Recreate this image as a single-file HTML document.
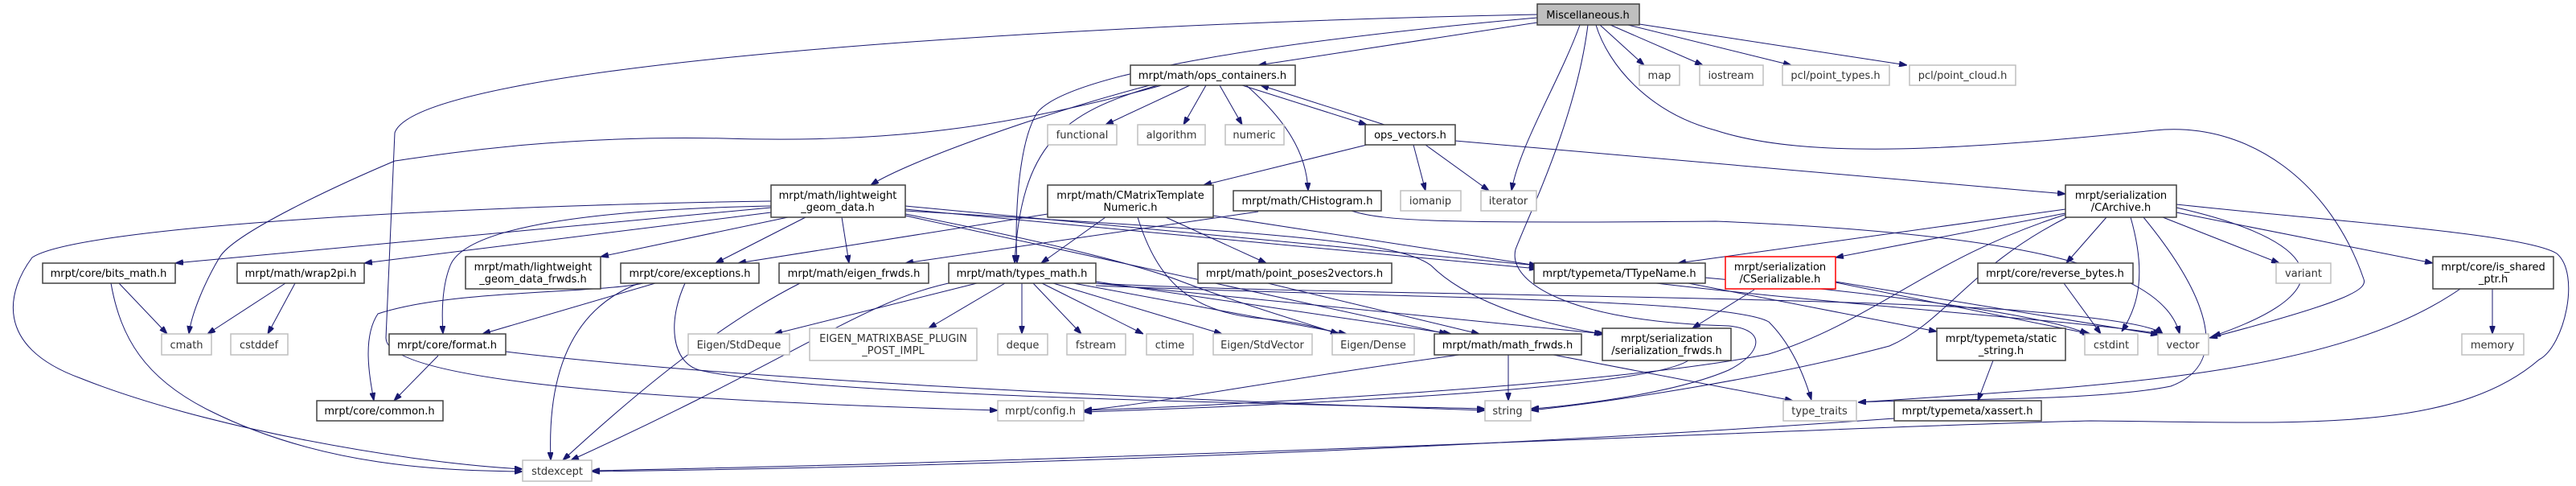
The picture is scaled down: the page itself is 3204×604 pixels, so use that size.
<!DOCTYPE html>
<html><head><meta charset="utf-8"><style>
html,body{margin:0;padding:0;background:#fff;}
svg{display:block;}
text{font-family:"DejaVu Sans","Liberation Sans",sans-serif;font-size:13px;fill:#000;}
.g text{fill:#333;}
.e path{fill:none;stroke:#191970;stroke-width:1;marker-end:url(#ah);}
</style></head><body>
<svg width="3204" height="604" viewBox="0 0 3204 604" xmlns="http://www.w3.org/2000/svg">
<defs><marker id="ah" markerUnits="userSpaceOnUse" markerWidth="10" markerHeight="7" refX="10" refY="3.5" orient="auto"><path d="M0,0 L10,3.5 L0,7 z" fill="#191970" stroke="#191970"/></marker></defs>
<g class="e">
<path d="M1912,28 L1565,81"/>
<path d="M1912,22 C1600,50 1330,90 1290,140 C1265,180 1262,280 1265,327"/>
<path d="M1912,18 C1300,30 520,80 491,165 L480,420 C480,480 900,500 1241,510"/>
<path d="M1990,31 L2045,81"/>
<path d="M2003,31 L2118,81"/>
<path d="M2025,31 L2228,81"/>
<path d="M2039,30 L2372,81"/>
<path d="M1965,31 C1940,100 1890,180 1880,237"/>
<path d="M1975,31 C1960,150 1900,270 1885,310 C1875,350 1950,400 2150,405 C2200,410 2190,440 2150,460 C2080,490 1950,505 1904,508"/>
<path d="M1985,31 C2000,80 2050,140 2134,162 C2250,200 2450,185 2680,162 C2800,150 2900,230 2940,347 C2945,360 2920,375 2748,420"/>
<path d="M1480,106 L1375,155"/>
<path d="M1500,106 L1472,155"/>
<path d="M1517,106 L1545,155"/>
<path d="M1545,106 L1700,155"/>
<path d="M1722,155 L1568,106"/>
<path d="M1550,106 C1600,150 1625,190 1627,237"/>
<path d="M1440,106 C1320,140 1270,180 1262,327"/>
<path d="M1445,106 C1250,160 1100,178 900,172 C700,168 560,190 491,200 C420,230 290,290 273,320 C255,350 238,390 235,415"/>
<path d="M1430,106 C1300,140 1130,200 1083,230"/>
<path d="M1700,180 L1497,230"/>
<path d="M1758,180 L1773,237"/>
<path d="M1773,180 L1852,237"/>
<path d="M1810,175 L2569,241"/>
<path d="M1375,270 L1295,327"/>
<path d="M1450,270 L1575,327"/>
<path d="M1415,270 C1440,350 1480,385 1560,395 C1620,400 1650,410 1665,415"/>
<path d="M1509,268 L1912,330"/>
<path d="M1303,266 L918,327"/>
<path d="M1565,263 L1126,327"/>
<path d="M1681,262 C1720,275 1800,278 2134,275 C2500,290 2690,330 2711,415"/>
<path d="M959,250 C600,255 100,280 40,320 C10,360 -10,430 100,470 C250,530 500,575 650,583"/>
<path d="M959,258 L218,327"/>
<path d="M959,264 L453,327"/>
<path d="M959,256 C750,260 580,280 560,330 C548,360 550,400 551,415"/>
<path d="M980,270 L747,319"/>
<path d="M1002,270 L890,327"/>
<path d="M1047,270 L1056,327"/>
<path d="M1126,256 L1912,330"/>
<path d="M1126,260 L1912,334"/>
<path d="M1126,262 C1600,290 1740,300 1780,330 C1820,370 1900,400 1993,415"/>
<path d="M1126,266 C1300,300 1420,330 1470,350 C1550,380 1620,400 1665,415"/>
<path d="M1126,268 L1800,415"/>
<path d="M800,352 C740,365 560,360 470,390 C450,420 460,470 465,498"/>
<path d="M815,352 L600,415"/>
<path d="M795,352 C720,380 680,450 685,572"/>
<path d="M852,352 C830,400 835,450 870,460 C1000,490 1500,500 1847,508"/>
<path d="M995,352 C900,400 800,480 700,572"/>
<path d="M545,442 L490,498"/>
<path d="M629,437 C900,470 1400,495 1847,510"/>
<path d="M148,352 L208,415"/>
<path d="M138,352 C150,420 180,470 260,510 C400,580 550,585 650,586"/>
<path d="M355,352 L258,415"/>
<path d="M367,352 L333,415"/>
<path d="M1215,352 L963,415"/>
<path d="M1250,352 L1155,408"/>
<path d="M1271,352 L1271,415"/>
<path d="M1285,352 L1345,415"/>
<path d="M1296,352 L1422,415"/>
<path d="M1310,352 L1520,415"/>
<path d="M1335,352 L1675,415"/>
<path d="M1363,350 L1805,415"/>
<path d="M1363,352 L1996,415"/>
<path d="M1363,352 C1600,366 2200,366 2500,385 C2620,395 2680,405 2690,415"/>
<path d="M1190,350 C1080,370 1000,440 710,572"/>
<path d="M1363,355 C1700,370 2150,370 2200,400 C2230,430 2245,470 2253,497"/>
<path d="M1577,352 L1840,415"/>
<path d="M1815,441 C1600,470 1450,500 1348,510"/>
<path d="M1876,441 L1876,498"/>
<path d="M1932,441 L2230,498"/>
<path d="M2100,448 C2050,480 1700,500 1348,512"/>
<path d="M2182,360 L2105,408"/>
<path d="M2283,351 L2600,415"/>
<path d="M2283,350 L2685,416"/>
<path d="M2120,345 C2400,370 2550,395 2597,415"/>
<path d="M2100,352 L2409,412"/>
<path d="M2060,352 C2300,380 2600,400 2688,415"/>
<path d="M2569,260 L2087,327"/>
<path d="M2569,265 L2283,320"/>
<path d="M2620,270 L2570,327"/>
<path d="M2650,270 C2670,340 2660,380 2639,412"/>
<path d="M2707,258 C2850,290 2950,350 2752,418"/>
<path d="M2690,270 L2835,327"/>
<path d="M2707,264 L3026,327"/>
<path d="M2707,254 C2900,275 3140,290 3180,315 C3210,340 3190,430 3158,447 C3050,540 2850,525 2600,523 C2300,530 1500,570 736,585"/>
<path d="M2571,266 C2400,320 2330,400 2200,440 C2000,480 1500,505 1348,510"/>
<path d="M2575,268 C2450,330 2420,400 2350,430 C2200,470 2000,500 1904,510"/>
<path d="M2666,270 C2740,360 2780,450 2700,480 C2600,500 2400,495 2311,500"/>
<path d="M2567,352 L2613,415"/>
<path d="M3100,359 L3100,415"/>
<path d="M3060,359 C2900,470 2600,480 2311,500"/>
<path d="M2479,448 L2460,498"/>
<path d="M2356,520 C1800,560 1200,580 736,586"/>
</g>
<g id="nodes" stroke-width="1.5">
<g fill="#fff" stroke="#404040">
<rect x="959" y="230" width="167" height="40"/>
<rect x="53" y="327" width="165" height="25"/>
<rect x="295" y="327" width="158" height="25"/>
<rect x="579" y="319" width="168" height="40"/>
<rect x="772" y="327" width="172" height="25"/>
<rect x="969" y="327" width="186" height="25"/>
<rect x="484" y="415" width="145" height="26"/>
<rect x="394" y="498" width="157" height="25"/>
<rect x="1406" y="81" width="205" height="25"/>
<rect x="1698" y="155" width="112" height="25"/>
<rect x="1303" y="230" width="206" height="40"/>
<rect x="1534" y="237" width="184" height="25"/>
<rect x="1180" y="327" width="183" height="25"/>
<rect x="1490" y="327" width="241" height="25"/>
<rect x="1908" y="327" width="213" height="25"/>
<rect x="1784" y="415" width="183" height="26"/>
<rect x="1993" y="408" width="160" height="40"/>
<rect x="2569" y="230" width="138" height="40"/>
<rect x="2460" y="327" width="193" height="25"/>
<rect x="3026" y="319" width="150" height="40"/>
<rect x="2409" y="408" width="160" height="40"/>
<rect x="2356" y="498" width="183" height="25"/>
</g>
<rect x="2146" y="319" width="137" height="40" fill="#fff" stroke="#ff0000"/>
<rect x="1912" y="5" width="127" height="26" fill="#bfbfbf" stroke="#404040"/>
<g fill="#fff" stroke="#bfbfbf">
<rect x="201" y="415" width="62" height="26"/>
<rect x="287" y="415" width="71" height="26"/>
<rect x="856" y="415" width="126" height="26"/>
<rect x="1007" y="408" width="208" height="40"/>
<rect x="650" y="572" width="86" height="26"/>
<rect x="2039" y="81" width="50" height="25"/>
<rect x="2114" y="81" width="79" height="25"/>
<rect x="1303" y="155" width="86" height="25"/>
<rect x="1415" y="155" width="84" height="25"/>
<rect x="1524" y="155" width="73" height="25"/>
<rect x="1742" y="237" width="75" height="25"/>
<rect x="1842" y="237" width="69" height="25"/>
<rect x="1241" y="415" width="62" height="26"/>
<rect x="1327" y="415" width="73" height="26"/>
<rect x="1426" y="415" width="58" height="26"/>
<rect x="1509" y="415" width="123" height="26"/>
<rect x="1657" y="415" width="102" height="26"/>
<rect x="1241" y="498" width="107" height="25"/>
<rect x="1847" y="498" width="57" height="25"/>
<rect x="2217" y="81" width="133" height="25"/>
<rect x="2375" y="81" width="132" height="25"/>
<rect x="2831" y="327" width="68" height="25"/>
<rect x="2593" y="415" width="66" height="26"/>
<rect x="2684" y="415" width="63" height="26"/>
<rect x="3062" y="415" width="77" height="26"/>
<rect x="2218" y="498" width="91" height="25"/>
</g>
</g>
<g text-anchor="middle">
<text x="1975" y="23">Miscellaneous.h</text>
<text x="1042" y="247">mrpt/math/lightweight</text><text x="1042" y="262">_geom_data.h</text>
<text x="135" y="344">mrpt/core/bits_math.h</text>
<text x="374" y="344">mrpt/math/wrap2pi.h</text>
<text x="663" y="336">mrpt/math/lightweight</text><text x="663" y="351">_geom_data_frwds.h</text>
<text x="858" y="344">mrpt/core/exceptions.h</text>
<text x="1062" y="344">mrpt/math/eigen_frwds.h</text>
<text x="556" y="433">mrpt/core/format.h</text>
<text x="472" y="515">mrpt/core/common.h</text>
<text x="1508" y="98">mrpt/math/ops_containers.h</text>
<text x="1754" y="172">ops_vectors.h</text>
<text x="1406" y="247">mrpt/math/CMatrixTemplate</text><text x="1406" y="262">Numeric.h</text>
<text x="1626" y="254">mrpt/math/CHistogram.h</text>
<text x="1271" y="344">mrpt/math/types_math.h</text>
<text x="1610" y="344">mrpt/math/point_poses2vectors.h</text>
<text x="2014" y="344">mrpt/typemeta/TTypeName.h</text>
<text x="1875" y="433">mrpt/math/math_frwds.h</text>
<text x="2073" y="425">mrpt/serialization</text><text x="2073" y="440">/serialization_frwds.h</text>
<text x="2638" y="247">mrpt/serialization</text><text x="2638" y="262">/CArchive.h</text>
<text x="2556" y="344">mrpt/core/reverse_bytes.h</text>
<text x="3101" y="336">mrpt/core/is_shared</text><text x="3101" y="351">_ptr.h</text>
<text x="2489" y="425">mrpt/typemeta/static</text><text x="2489" y="440">_string.h</text>
<text x="2447" y="515">mrpt/typemeta/xassert.h</text>
<text x="2214" y="336">mrpt/serialization</text><text x="2214" y="351">/CSerializable.h</text>
</g>
<g text-anchor="middle" class="g">
<text x="232" y="433">cmath</text>
<text x="322" y="433">cstddef</text>
<text x="919" y="433">Eigen/StdDeque</text>
<text x="1111" y="425">EIGEN_MATRIXBASE_PLUGIN</text><text x="1111" y="440">_POST_IMPL</text>
<text x="693" y="590">stdexcept</text>
<text x="2064" y="98">map</text>
<text x="2153" y="98">iostream</text>
<text x="1346" y="172">functional</text>
<text x="1457" y="172">algorithm</text>
<text x="1560" y="172">numeric</text>
<text x="1779" y="254">iomanip</text>
<text x="1876" y="254">iterator</text>
<text x="1272" y="433">deque</text>
<text x="1363" y="433">fstream</text>
<text x="1455" y="433">ctime</text>
<text x="1570" y="433">Eigen/StdVector</text>
<text x="1708" y="433">Eigen/Dense</text>
<text x="1294" y="515">mrpt/config.h</text>
<text x="1875" y="515">string</text>
<text x="2283" y="98">pcl/point_types.h</text>
<text x="2441" y="98">pcl/point_cloud.h</text>
<text x="2865" y="344">variant</text>
<text x="2626" y="433">cstdint</text>
<text x="2715" y="433">vector</text>
<text x="3100" y="433">memory</text>
<text x="2263" y="515">type_traits</text>
</g>
</svg>
</body></html>
